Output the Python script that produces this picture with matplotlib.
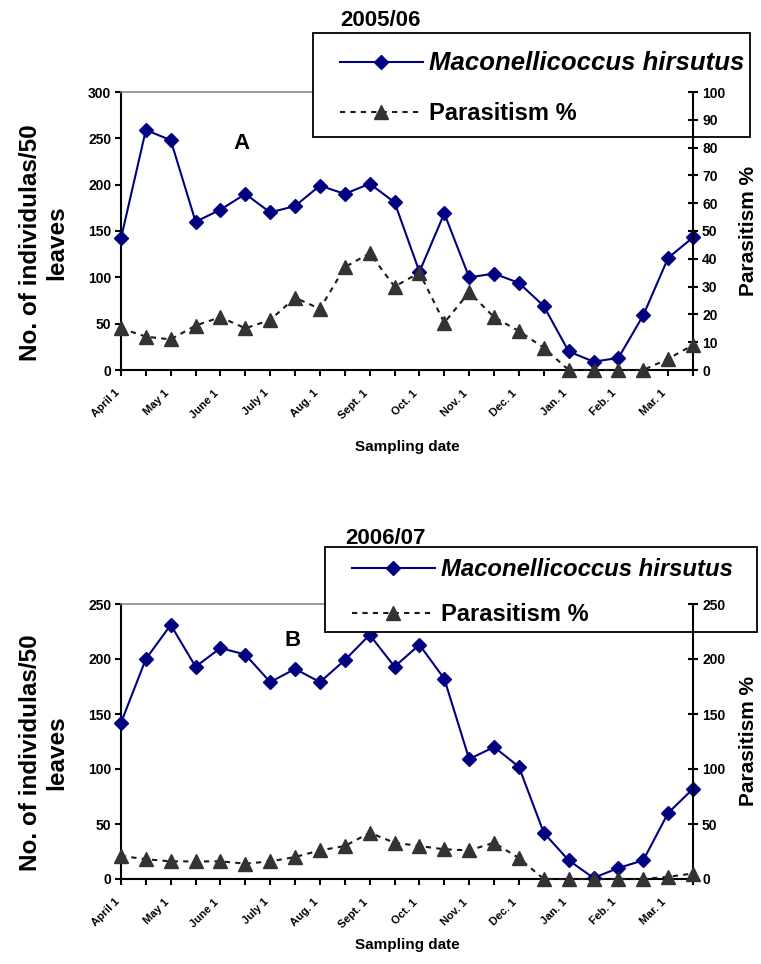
import numpy as np
import matplotlib.pyplot as plt
from matplotlib.lines import Line2D
from matplotlib.patches import Rectangle

plt.rcParams['font.family'] = ['Liberation Sans', 'DejaVu Sans']
plt.rcParams['font.weight'] = 'bold'
plt.rcParams['axes.labelweight'] = 'bold'

W, H = 761, 964

# sampling dates (fortnightly, labels on the 1st of each month)
month_labels = ['April 1', 'May 1', 'June 1', 'July 1', 'Aug. 1', 'Sept. 1',
                'Oct. 1', 'Nov. 1', 'Dec. 1', 'Jan. 1', 'Feb. 1', 'Mar. 1']

# 2005/06 season
mealybug_0506 = [142, 259, 248, 160, 173, 190, 170, 177, 199, 190, 201, 181,
                 106, 169, 100, 104, 94, 69, 20, 9, 13, 59, 121, 143]
parasitism_0506 = [15, 12, 11, 16, 19, 15, 18, 26, 22, 37, 42, 30,
                   35, 17, 28, 19, 14, 8, 0, 0, 0, 0, 4, 9]

# 2006/07 season
mealybug_0607 = [142, 200, 231, 193, 210, 204, 179, 191, 179, 199, 222, 193,
                 213, 182, 109, 120, 102, 42, 17, 1, 10, 17, 60, 82]
parasitism_0607 = [21, 18, 16, 16, 16, 14, 16, 20, 26, 30, 42, 33,
                   30, 27, 26, 33, 19, 0, 0, 0, 0, 0, 2, 5]

fig = plt.figure(figsize=(W / 100, H / 100), dpi=100)


def px_rect(x0, y0, x1, y1):
    # pixel box (top-left origin) -> figure fraction rect
    return [x0 / W, 1 - y1 / H, (x1 - x0) / W, (y1 - y0) / H]


def panel(rect, counts, para, lmax, rmax, rstep, season, season_xy,
          letter, letter_xy, box, leg_xy, species_size, xlabel_y, ylabel_y):
    ax = fig.add_axes(px_rect(*rect))
    ax2 = ax.twinx()
    x = np.arange(len(counts))

    ax.plot(x, counts, color='#000080', lw=1.5, marker='D', ms=7,
            clip_on=False, zorder=3)
    ax2.plot(x, para, color='#1a1a1a', lw=1.5, ls=(0, (2.5, 2.5)),
             marker='^', ms=10, mfc='#333333', mec='#333333',
             clip_on=False, zorder=3)

    ax.set_xlim(0, len(counts) - 1)
    ax.set_ylim(0, lmax)
    ax2.set_ylim(0, rmax)
    ax.set_yticks(np.arange(0, lmax + 1, 50))
    ax2.set_yticks(np.arange(0, rmax + 1, rstep))

    labels = []
    for i in range(len(counts)):
        labels.append(month_labels[i // 2] if i % 2 == 0 else '')
    ax.set_xticks(x)
    ax.set_xticklabels(labels, rotation=45, ha='right', va='bottom',
                       rotation_mode='anchor', fontsize=8)

    ax.tick_params(axis='x', direction='out', length=4, width=1.5, pad=14)
    ax.tick_params(axis='y', direction='out', length=4, width=1.5,
                   labelsize=10, pad=3)
    ax2.tick_params(axis='y', direction='inout', length=7, width=1.5,
                    labelsize=10, pad=3)

    for s in ['left', 'bottom']:
        ax.spines[s].set_linewidth(1.5)
    ax.spines['top'].set_color('#888888')
    ax.spines['top'].set_linewidth(1.2)
    ax.spines['right'].set_visible(False)
    for s in ['top', 'left', 'bottom']:
        ax2.spines[s].set_visible(False)
    ax2.spines['right'].set_linewidth(1.5)

    ax.set_xlabel('Sampling date', fontsize=11)
    ax.xaxis.set_label_coords(0.5, xlabel_y)
    ax.set_ylabel('No. of individulas/50\nleaves', fontsize=17.5,
                  linespacing=1.15)
    ax.yaxis.set_label_coords(-0.093, ylabel_y)
    ax2.set_ylabel('Parasitism %', fontsize=15)
    ax2.yaxis.set_label_coords(1.08, 0.5)

    ax.text(*letter_xy, letter, transform=ax.transAxes, fontsize=16,
            ha='center', va='center')
    fig.text(season_xy[0] / W, 1 - season_xy[1] / H, season, fontsize=16,
             ha='center', va='center')

    # legend frame sits over the plot area but under the right-hand axis
    bx0, by0, bx1, by1 = box
    ax.add_patch(Rectangle((bx0 / W, 1 - by1 / H), (bx1 - bx0) / W,
                           (by1 - by0) / H, transform=fig.transFigure,
                           facecolor='white', edgecolor='black', lw=1.3,
                           clip_on=False, zorder=4))
    handles = [
        Line2D([], [], color='#000080', lw=1.5, marker='D', ms=7),
        Line2D([], [], color='#1a1a1a', lw=1.5, ls=(0, (2.5, 2.5)),
               marker='^', ms=10, mfc='#333333', mec='#333333'),
    ]
    leg = ax.legend(handles, ['Maconellicoccus hirsutus', 'Parasitism %'],
                    loc='upper left', bbox_transform=fig.transFigure,
                    bbox_to_anchor=(leg_xy[0] / W, 1 - leg_xy[1] / H),
                    frameon=False, fontsize=17, handlelength=3.5,
                    handletextpad=0.25, labelspacing=leg_xy[2],
                    borderpad=0, borderaxespad=0)
    leg.set_zorder(5)
    leg.get_texts()[0].set_style('italic')
    leg.get_texts()[0].set_fontsize(species_size)
    return ax, ax2


panel((121, 92, 693, 370), mealybug_0506, parasitism_0506, 300, 100, 10,
      '2005/06', (380, 20), 'A', (0.2115, 0.8165),
      (313, 33, 750, 137), (340, 51, 1.14), 18.5, -0.25, 0.457)

panel((121, 604, 693, 879), mealybug_0607, parasitism_0607, 250, 250, 50,
      '2006/07', (386, 538), 'B', (0.3007, 0.869),
      (325, 547, 757, 632), (352, 558, 0.95), 17.2, -0.215, 0.458)

fig.savefig('out.png', dpi=100)
